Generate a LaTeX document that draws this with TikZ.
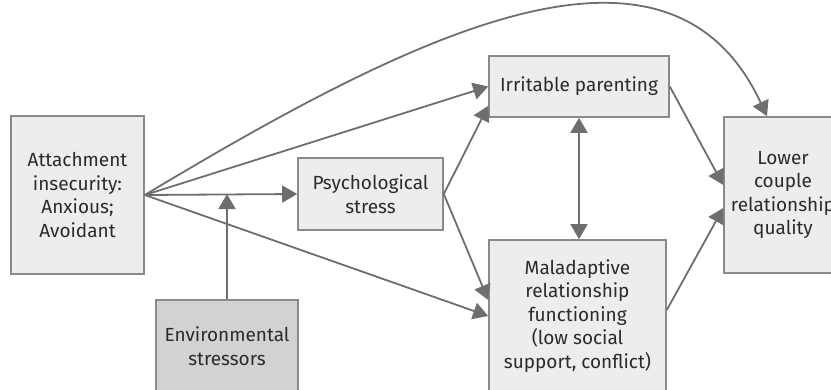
\documentclass[tikz,border=0pt]{standalone}
\usepackage{fontspec}
\setmainfont{Fira Sans}
\usepackage{tikz}
\usetikzlibrary{arrows.meta, positioning, calc}
\definecolor{linegray}{HTML}{6D6E71}
\definecolor{boxgray}{HTML}{8A8A8C}
\definecolor{lightfill}{HTML}{EDEDED}
\definecolor{darkfill}{HTML}{D1D2D4}
\definecolor{textgray}{HTML}{2B2B2B}

\begin{document}
\begin{tikzpicture}[
  x=1pt, y=-1pt,
  box/.style={rectangle, draw=boxgray, line width=1.6pt, fill=lightfill, text=textgray, font=\fontsize{19}{23.5}\selectfont, align=center, inner sep=0pt},
  stressbox/.style={box, fill=darkfill},
  arrow/.style={-{Triangle[length=15pt, width=17pt]}, draw=linegray, line width=1.8pt},
  twoway/.style={{Triangle[length=15pt, width=17pt]}-{Triangle[length=15pt, width=17pt]}, draw=linegray, line width=1.8pt}
]
  \useasboundingbox (0,0) rectangle (831,389);
  \clip (0,0) rectangle (831,389);

  \node[box, minimum width=133pt, minimum height=158pt] (attach) at (77.5,195) {Attachment\\insecurity:\\Anxious;\\Avoidant};
  \node[box, minimum width=145pt, minimum height=72pt] (psych) at (370.5,194) {Psychological\\stress};
  \node[box, minimum width=180pt, minimum height=61pt] (parenting) at (579,86.5) {Irritable parenting};
  \node[box, minimum width=177pt, minimum height=152pt] (malad) at (577.5,316) {Maladaptive\\relationship\\functioning\\(low social\\support, conflict)};
  \node[box, minimum width=118pt, minimum height=156pt] (quality) at (783,195) {Lower\\couple\\relationship\\quality};
  \node[stressbox, minimum width=142pt, minimum height=92pt] (env) at (227,346) {Environmental\\stressors};

  \draw[arrow] (attach.east) -- (psych.west);
  \draw[arrow] (attach.east) -- (parenting.west);
  \draw[arrow] (attach.east) -- (malad.west);
  \draw[arrow] (attach.east) .. controls +(-31:320) and +(-115:230) .. ([xshift=-16pt]quality.north);
  \draw[arrow] (env.north) -- (env.north |- psych.west);
  \draw[arrow] (psych.east) -- ([yshift=12pt]parenting.south west);
  \draw[arrow] (psych.east) -- ([yshift=16pt]malad.west);
  \draw[twoway] (parenting.south) -- (parenting.south |- malad.north);
  \draw[arrow] (parenting.east) -- ([yshift=10pt]quality.west);
  \draw[arrow] ([yshift=6pt]malad.east) -- ([yshift=-13pt]quality.west);
\end{tikzpicture}
\end{document}
